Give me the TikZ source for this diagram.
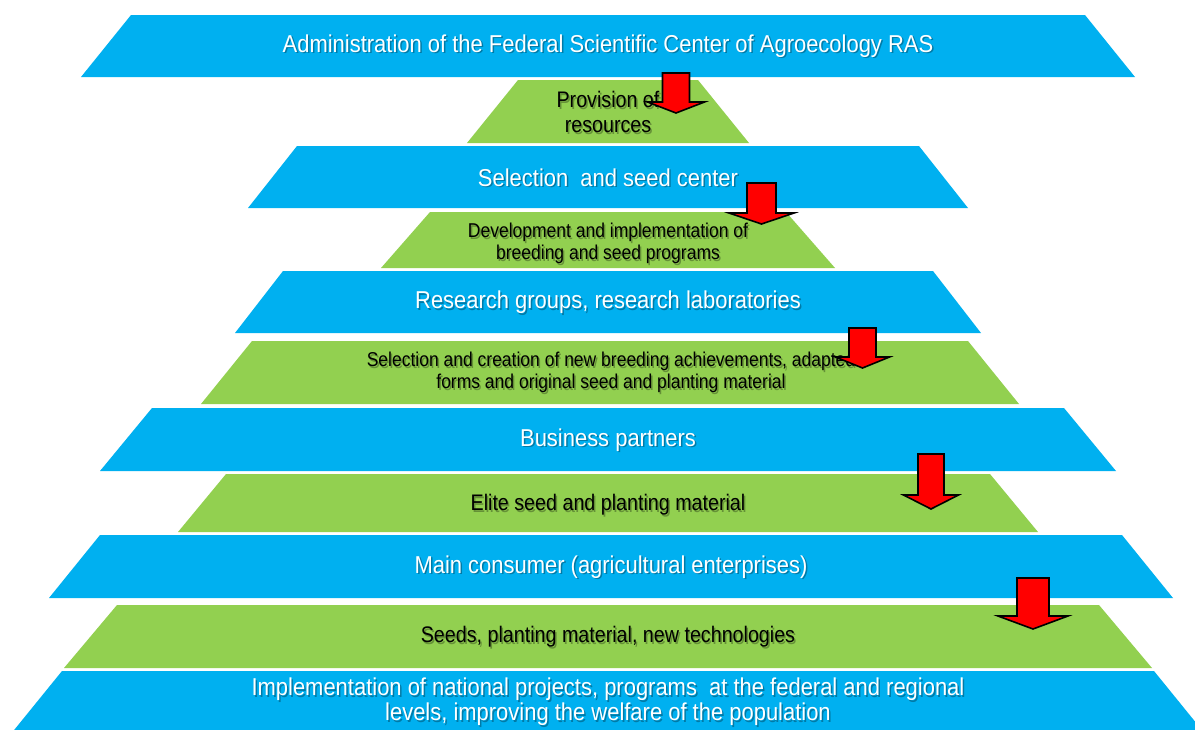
\documentclass[tikz,border=0pt]{standalone}
\usepackage{fontspec}
\setmainfont{Liberation Sans}
\newfontfamily\tierbluefont[FakeStretch=0.9]{Liberation Sans}
\newfontfamily\tiergreenfont[FakeStretch=0.875]{Liberation Sans}
\usetikzlibrary{calc}

\definecolor{tierblue}{HTML}{00B0F0}
\definecolor{tiergreen}{HTML}{92D050}

\tikzset{
  tierfill/.style={fill=#1, draw=none},
  bluetext/.style={text=white, align=center, inner sep=0pt,
    font=\tierbluefont\fontsize{24.4}{25}\selectfont},
  greentext/.style={text=black, align=center, inner sep=0pt,
    font=\tiergreenfont\fontsize{22.5}{25}\selectfont},
  smallgreentext/.style={text=black, align=center, inner sep=0pt,
    font=\tiergreenfont\fontsize{20}{22}\selectfont},
  flowarrow/.style={fill=red, draw=black, line width=1.6pt, line join=miter},
}

% one tier of the pyramid: name, colour, centre x, top y, bottom y, top half-width, bottom half-width
\newcommand\tier[7]{%
  \path[tierfill=#2] ({#3-#6},#4) -- ({#3+#6},#4) -- ({#3+#7},#5) -- ({#3-#7},#5) -- cycle;
  \coordinate (#1) at (#3,{(#4+#5)/2});}

% label with a soft drop shadow: name, position, style, text
\newcommand\tierlabel[4]{%
  \node[#3, text=black, text opacity=0.3, xshift=1.5pt, yshift=-1.5pt] (#1-shadow) at (#2) {#4};
  \node[#3] (#1) at (#2) {#4};}

% block arrow pointing down: centre x, top y, shaft half-width, shoulder y, head half-width, tip y
\newcommand\tierarrow[6]{%
  \draw[flowarrow] ({#1-#3},#2) -- ({#1+#3},#2) -- ({#1+#3},#4) -- ({#1+#5},#4)
    -- (#1,#6) -- ({#1-#5},#4) -- ({#1-#3},#4) -- cycle;}

\begin{document}
\begin{tikzpicture}[x=1pt, y=-1pt]
  \clip (0,0) rectangle (1195,729);
  \fill[white] (0,0) rectangle (1195,729);

  % tiers
  \tier{t1}{tierblue}{608}{15}{77}{477}{527}
  \tier{t2}{tiergreen}{608}{80}{143}{90}{141}
  \tier{t3}{tierblue}{608}{146}{208}{311}{360}
  \tier{t4}{tiergreen}{608}{212}{268}{178}{227}
  \tier{t5}{tierblue}{608}{271}{333}{325}{373}
  \tier{t6}{tiergreen}{610}{341}{404}{358}{409}
  \tier{t7}{tierblue}{608}{408}{471}{456}{508}
  \tier{t8}{tiergreen}{608}{474}{532}{382}{430}
  \tier{t9}{tierblue}{611}{535}{598}{511}{562}
  \tier{t10}{tiergreen}{608}{605}{668}{491}{544}
  \tier{t11}{tierblue}{608}{671}{740}{546}{602}

  % labels
  \tierlabel{l1}{608,46}{bluetext}{Administration of the Federal Scientific Center of Agroecology RAS}
  \tierlabel{l2}{608,112}{greentext}{Provision of\\resources}
  \tierlabel{l3}{608,177.5}{bluetext}{Selection\ \ and seed center}
  \tierlabel{l4}{608,243.5}{smallgreentext}{Development and implementation of\\breeding and seed programs}
  \tierlabel{l5}{608,302.5}{bluetext}{Research groups, research laboratories}
  \tierlabel{l6}{611,372.5}{smallgreentext}{Selection and creation of new breeding achievements, adapted\\forms and original seed and planting material}
  \tierlabel{l7}{608,440}{bluetext}{Business partners}
  \tierlabel{l8}{608,505}{greentext}{Elite seed and planting material}
  \tierlabel{l9}{611,567}{bluetext}{Main consumer (agricultural enterprises)}
  \tierlabel{l10}{608,637}{greentext}{Seeds, planting material, new technologies}
  \tierlabel{l11}{608,702}{bluetext}{Implementation of national projects, programs\ \ at the federal and regional\\levels, improving the welfare of the population}

  % flow arrows between tiers
  \tierarrow{676}{73}{13.5}{102}{28.5}{113}
  \tierarrow{761.5}{183}{14.5}{213}{32.5}{224}
  \tierarrow{862.5}{328}{13.5}{357}{27}{368}
  \tierarrow{931}{454}{13}{495}{27.5}{509}
  \tierarrow{1033}{578}{16}{616}{35}{629}
\end{tikzpicture}
\end{document}
